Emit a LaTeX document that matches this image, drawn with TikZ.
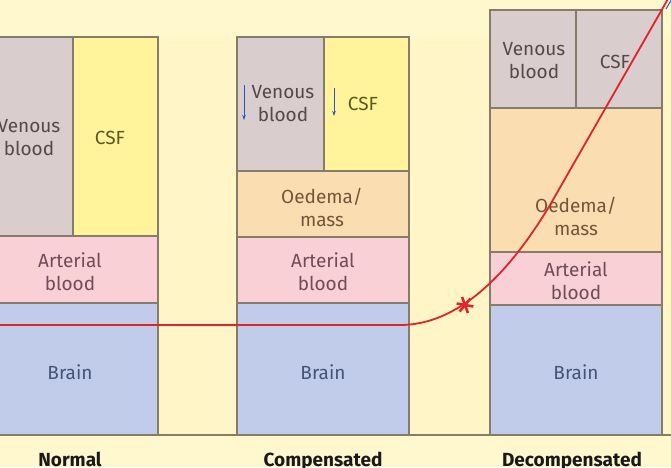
\documentclass[tikz,border=0pt]{standalone}
\usepackage{fontspec}
\setmainfont{Fira Sans}
\usetikzlibrary{arrows.meta,calc}
\definecolor{bgc}{HTML}{FFF7CE}
\definecolor{gapc}{HTML}{FFF5C6}
\definecolor{bordc}{HTML}{857C6C}
\definecolor{venc}{HTML}{D9CDCD}
\definecolor{csfc}{HTML}{FFF39C}
\definecolor{oedc}{HTML}{FBDDB2}
\definecolor{artc}{HTML}{F8D0D5}
\definecolor{brnc}{HTML}{C0CCEA}
\definecolor{ventx}{HTML}{564848}
\definecolor{csftx}{HTML}{5E5720}
\definecolor{oedtx}{HTML}{72563C}
\definecolor{arttx}{HTML}{704C5A}
\definecolor{brntx}{HTML}{465474}
\definecolor{redc}{HTML}{E0242A}
\definecolor{bluec}{HTML}{2458C8}
\begin{document}
\begin{tikzpicture}[x=1pt,y=-1pt,
  cellst/.style={draw=bordc, line width=1.3pt},
  lbl/.style={font=\fontsize{19}{23}\selectfont, align=center, inner sep=0pt},
  title/.style={font=\fontsize{19}{22}\selectfont\bfseries, text=black!90, inner sep=0pt, anchor=base},
  redline/.style={draw=redc, line width=1.8pt},
  bluearr/.style={draw=bluec, line width=1pt, -{Stealth[length=5pt,width=3.5pt]}}]
\useasboundingbox (0,0) rectangle (671,467);
\clip (0,0) rectangle (671,467);
\fill[bgc] (0,0) rectangle (671,467);
\fill[gapc] (0,37) rectangle (671,435);
\draw[bordc, line width=1.3pt] (-5,435) -- (680,435);
% Normal
\draw[cellst, fill=venc] (-14,37) rectangle (73,236);
\draw[cellst, fill=csfc] (73,37) rectangle (158,236);
\draw[cellst, fill=artc] (-14,236) rectangle (158,303);
\draw[cellst, fill=brnc] (-14,303) rectangle (158,435);
\node[lbl, text=ventx] (nven) at (29,138) {Venous\\blood};
\node[lbl, text=csftx] (ncsf) at (110,138) {CSF};
\node[lbl, text=arttx] (nart) at (70,272) {Arterial\\blood};
\node[lbl, text=brntx] (nbrn) at (70,372) {Brain};
\node[title] (ntit) at (70,466) {Normal};
% Compensated
\draw[cellst, fill=venc] (237,37) rectangle (324,171);
\draw[cellst, fill=csfc] (324,37) rectangle (409,171);
\draw[cellst, fill=oedc] (237,171) rectangle (409,237);
\draw[cellst, fill=artc] (237,237) rectangle (409,303);
\draw[cellst, fill=brnc] (237,303) rectangle (409,435);
\node[lbl, text=ventx] (cven) at (283,104) {Venous\\blood};
\node[lbl, text=csftx] (ccsf) at (363,104) {CSF};
\node[lbl, text=oedtx] (coed) at (322,207) {Oedema/\\mass};
\node[lbl, text=arttx] (cart) at (323,272) {Arterial\\blood};
\node[lbl, text=brntx] (cbrn) at (323,372) {Brain};
\node[title] (ctit) at (323,466) {Compensated};
\coordinate (va1) at (244,85); \coordinate (va2) at (244,120);
\coordinate (ca1) at (334,88); \coordinate (ca2) at (334,116);
\draw[bluearr] (va1) -- (va2);
\draw[bluearr] (ca1) -- (ca2);
% Decompensated
\draw[cellst, fill=venc] (490,10) rectangle (576,108);
\draw[cellst, fill=venc] (576,10) rectangle (662,108);
\draw[cellst, fill=oedc] (490,108) rectangle (662,252);
\draw[cellst, fill=artc] (490,252) rectangle (662,305);
\draw[cellst, fill=brnc] (490,305) rectangle (662,435);
\node[lbl, text=ventx] (dven) at (534,61) {Venous\\blood};
\node[lbl, text=ventx] (dcsf) at (615,62) {CSF};
\node[lbl, text=oedtx] (doed) at (576,216) {Oedema/\\mass};
\node[lbl, text=arttx] (dart) at (576,281) {Arterial\\blood};
\node[lbl, text=brntx] (dbrn) at (576,372) {Brain};
\node[title] (dtit) at (572,466) {Decompensated};
% pressure curve
\coordinate (r0) at (-5,325);
\coordinate (r1) at (400,325);
\coordinate (r2) at (550,205);
\coordinate (r3) at (680,-22);
\draw[redline] (r0) -- (r1) .. controls (455,325) and (505,280) .. (r2) -- (r3);
\node[inner sep=0pt] (star) at (465,305) {};
\foreach \a in {10,70,130} {
  \draw[draw=redc, line width=2.6pt] ($(star)+(\a:8.5)$) -- ($(star)+(\a+180:8.5)$);
}
\coordinate (b1) at (666,9); \coordinate (b2) at (673,-3);
\draw[bluec, line width=1pt] (b1) -- (b2);
\end{tikzpicture}
\end{document}
